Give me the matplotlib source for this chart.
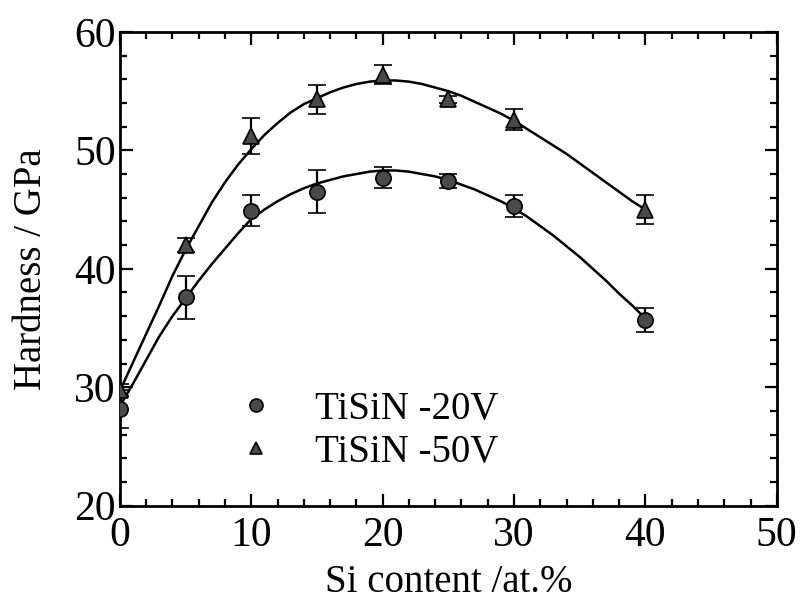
import matplotlib
matplotlib.use("Agg")
import matplotlib.pyplot as plt
from matplotlib.ticker import MultipleLocator

plt.rcParams['font.family'] = ['Liberation Serif', 'DejaVu Serif']

# measured points
si = [0, 5, 10, 15, 20, 25, 30, 40]
h20 = [28.2, 37.6, 44.9, 46.5, 47.7, 47.4, 45.3, 35.7]
e20 = [1.6, 1.8, 1.3, 1.8, 0.9, 0.6, 0.9, 1.0]
h50 = [29.8, 42.0, 51.2, 54.3, 56.4, 54.3, 52.6, 45.0]
e50 = [0.5, 0.6, 1.5, 1.2, 0.8, 0.3, 0.9, 1.2]

# fitted curves (every 1 at.%)
fit_x = list(range(0, 41))
fit20 = [28.4, 30.3, 32.3, 34.3, 36.0, 37.5, 39.0, 40.4, 41.7, 43.0, 44.2,
         45.0, 45.7, 46.3, 46.8, 47.2, 47.5, 47.8, 48.0, 48.2, 48.3,
         48.3, 48.2, 48.0, 47.8, 47.5, 47.1, 46.7, 46.2, 45.7, 45.1,
         44.4, 43.6, 42.8, 41.9, 41.0, 40.0, 39.0, 37.9, 36.9, 35.8]
fit50 = [29.7, 32.1, 34.5, 36.9, 39.4, 41.6, 43.6, 45.6, 47.3, 48.8, 50.1,
         51.3, 52.3, 53.2, 53.9, 54.4, 54.9, 55.3, 55.6, 55.8, 55.9,
         55.9, 55.8, 55.6, 55.3, 55.0, 54.6, 54.1, 53.6, 53.1, 52.5,
         51.8, 51.1, 50.4, 49.7, 48.9, 48.1, 47.3, 46.5, 45.7, 45.0]

fig = plt.figure(figsize=(8.1, 6.02), dpi=100)
ax = fig.add_axes([0.148, 0.16, 0.811, 0.787])

ax.plot(fit_x, fit20, color='black', lw=1.8, zorder=2)
ax.plot(fit_x, fit50, color='black', lw=1.8, zorder=2)

ax.errorbar(si, h20, yerr=e20, fmt='o', ms=11, mfc='#4a4a4a', mec='black', mew=1.2,
            ecolor='black', elinewidth=1.6, capsize=6.5, capthick=1.6, zorder=3,
            label='TiSiN -20V')
ax.errorbar(si, h50, yerr=e50, fmt='^', ms=11, mfc='#4a4a4a', mec='black', mew=1.2,
            ecolor='black', elinewidth=1.6, capsize=6.5, capthick=1.6, zorder=3,
            label='TiSiN -50V')

ax.set_xlim(0, 50)
ax.set_ylim(20, 60)
ax.xaxis.set_major_locator(MultipleLocator(10))
ax.xaxis.set_minor_locator(MultipleLocator(2))
ax.yaxis.set_major_locator(MultipleLocator(10))
ax.yaxis.set_minor_locator(MultipleLocator(2))
ax.tick_params(which='both', direction='in', top=True, right=True, width=1.6)
ax.tick_params(which='major', length=9, labelsize=30, pad=3)
ax.tick_params(axis='x', which='major', pad=8)
ax.tick_params(which='minor', length=5)
for s in ax.spines.values():
    s.set_linewidth(2)

ax.set_xlabel('Si content /at.%', fontsize=28)
ax.set_ylabel('Hardness / GPa', fontsize=28)
ax.xaxis.set_label_coords(0.5, -0.123)
ax.yaxis.set_label_coords(-0.106, 0.5)

h, l = ax.get_legend_handles_labels()
h = [x[0] for x in h]
ax.legend(h, l, loc='center left', bbox_to_anchor=(0.119, 0.158), frameon=False,
          fontsize=28, handletextpad=0.9, labelspacing=0.15, handlelength=1.2,
          markerscale=0.85)

fig.savefig('out.png', dpi=100)
